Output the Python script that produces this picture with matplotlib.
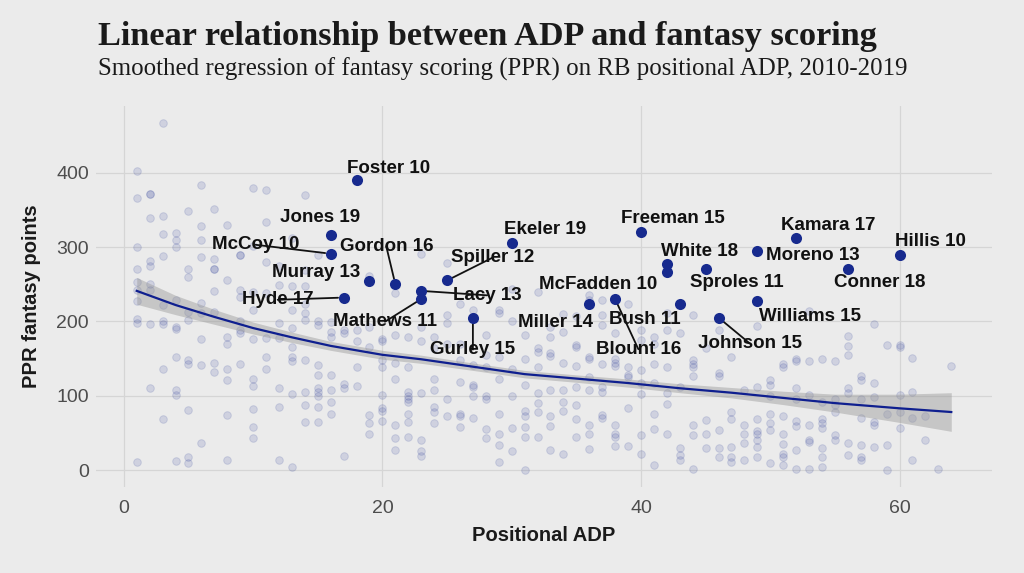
import matplotlib
matplotlib.use("Agg")
import matplotlib.pyplot as plt
import numpy as np

# ---------------- data ----------------
# background points: positional ADP -> list of PPR fantasy points
bg_points = {
    1: [402, 366, 300, 271, 253, 242, 228, 203, 198, 11],
    2: [372, 372, 339, 281, 274, 250, 242, 196, 111],
    3: [467, 342, 317, 288, 222, 200, 196, 136, 68],
    4: [319, 309, 300, 229, 193, 190, 152, 107, 101, 12],
    5: [348, 271, 260, 213, 202, 148, 143, 81, 18, 9],
    6: [383, 328, 309, 286, 225, 211, 176, 141, 37],
    7: [351, 284, 270, 270, 241, 213, 144, 132],
    8: [330, 255, 179, 170, 136, 121, 74, 13],
    9: [289, 289, 242, 233, 200, 188, 184, 143],
    10: [380, 301, 239, 215, 176, 123, 113, 82, 58, 43],
    11: [377, 333, 280, 238, 177, 152, 136],
    12: [274, 249, 198, 177, 111, 85, 14],
    13: [312, 248, 215, 191, 166, 152, 146, 102, 4],
    14: [370, 269, 247, 224, 211, 202, 148, 105, 87, 65],
    15: [289, 200, 195, 141, 128, 110, 105, 100, 85, 65],
    16: [199, 186, 179, 128, 108, 92, 75],
    17: [188, 184, 116, 110, 19],
    18: [189, 173, 139, 113],
    19: [261, 193, 165, 74, 63, 49],
    20: [176, 174, 148, 139, 101, 83, 80, 66],
    21: [238, 182, 144, 123, 61, 43, 27],
    22: [179, 139, 105, 100, 96, 91, 76, 65, 45],
    23: [290, 193, 173, 103, 41, 25, 19],
    24: [179, 164, 123, 108, 85, 78, 63],
    25: [278, 208, 198, 170, 96, 72],
    26: [224, 170, 148, 119, 76, 73, 58],
    27: [215, 141, 115, 112, 100, 70],
    28: [182, 155, 138, 100, 96, 55, 43],
    29: [215, 211, 152, 122, 76, 48, 34, 11],
    30: [244, 200, 136, 100, 56, 26],
    31: [182, 150, 115, 79, 73, 58, 45, 0],
    32: [239, 164, 159, 139, 103, 90, 78, 45],
    33: [193, 179, 157, 153, 107, 72, 59, 27],
    34: [210, 186, 144, 108, 91, 80, 22],
    35: [207, 168, 165, 140, 112, 87, 68, 45],
    36: [235, 229, 152, 149, 125, 108, 61, 49, 28],
    37: [229, 208, 195, 143, 112, 105, 74, 70],
    38: [184, 149, 144, 140, 61, 49, 45, 32],
    39: [224, 138, 128, 125, 84, 32],
    40: [188, 175, 135, 117, 102, 47, 22],
    41: [179, 170, 143, 117, 75, 55, 7],
    42: [211, 189, 139, 103, 89, 49],
    43: [184, 112, 29, 20, 13],
    44: [209, 148, 143, 139, 126, 61, 47, 2],
    45: [164, 67, 49, 29],
    46: [188, 130, 126, 54, 29, 18],
    47: [152, 78, 68, 31, 18, 11],
    48: [108, 61, 49, 36, 13],
    49: [194, 112, 68, 52, 49, 40, 31, 18],
    50: [121, 114, 99, 76, 63, 54, 9],
    51: [143, 139, 72, 49, 35, 22, 18, 7],
    52: [150, 146, 111, 96, 66, 59, 27, 1],
    53: [214, 146, 101, 61, 40, 38, 2],
    54: [150, 91, 68, 63, 56, 29, 18, 4],
    55: [146, 96, 87, 78, 47, 40],
    56: [180, 167, 155, 111, 103, 36, 20],
    57: [126, 121, 95, 70, 34, 18, 13],
    58: [197, 117, 98, 65, 61, 31],
    59: [168, 76, 34, 0],
    60: [168, 165, 101, 78, 56],
    61: [151, 105, 70, 14],
    62: [72, 40],
    63: [2],
    64: [140],
}

# highlighted players
hl_names = ["Foster 10", "Jones 19", "McCoy 10", "Murray 13", "Gordon 16", "Hyde 17",
            "Lacy 13", "Mathews 11", "Spiller 12", "Gurley 15", "Ekeler 19", "Freeman 15",
            "White 18", "McFadden 10", "Miller 14", "Blount 16", "Bush 11", "Sproles 11",
            "Johnson 15", "Moreno 13", "Williams 15", "Kamara 17", "Conner 18", "Hillis 10"]
hl_adp = [18, 16, 16, 19, 21, 17, 23, 23, 25, 27, 30, 40, 42, 42, 36, 38, 43, 45,
          46, 49, 49, 52, 56, 60]
hl_pts = [390, 316, 291, 254, 250, 232, 241, 230, 255, 204, 306, 320, 277, 267, 224,
          230, 223, 271, 205, 294, 227, 312, 271, 289]

# smoothed fit (x, fit, half-width of the confidence band)
smooth_x = [1, 4, 7, 10, 13, 16, 20, 23, 27, 31, 35, 39, 43, 47, 51, 55, 60, 64]
smooth_y = [241, 222, 206, 191, 178.5, 167, 155, 149, 139, 129, 123, 117, 110, 104, 97, 90, 83, 78]
smooth_se = [18, 13, 10, 8, 7, 6, 6, 5.5, 5, 5, 5, 5.5, 6, 7, 9, 12, 19, 26]

x_ticks = [0, 20, 40, 60]
y_ticks = [0, 100, 200, 300, 400]

# label placement (layout only): label centre in data coords, and whether a leader line is drawn
label_pos = {
    "Foster 10": (20.5, 406, False), "Jones 19": (15.2, 340, False),
    "McCoy 10": (10.2, 303, True), "Murray 13": (14.9, 266, False),
    "Gordon 16": (20.3, 301, True), "Hyde 17": (11.9, 229, True),
    "Lacy 13": (28.1, 235, True), "Mathews 11": (20.2, 199.5, True),
    "Spiller 12": (28.5, 285.5, True), "Gurley 15": (27.0, 162, True),
    "Ekeler 19": (32.6, 324, False), "Freeman 15": (42.5, 338, False),
    "White 18": (44.5, 294, False), "McFadden 10": (36.7, 249, False),
    "Miller 14": (33.4, 198, False), "Blount 16": (39.8, 162.5, True),
    "Bush 11": (40.3, 203, False), "Sproles 11": (47.4, 252, False),
    "Johnson 15": (48.4, 170.5, True), "Moreno 13": (53.3, 289, False),
    "Williams 15": (53.1, 207, False), "Kamara 17": (54.5, 329.5, False),
    "Conner 18": (58.5, 252, False), "Hillis 10": (62.4, 307, False),
}

# ---------------- style ----------------
BG = "#ebebeb"
GRID = "#d5d5d5"
NAVY = "#172a8e"
LINE = "#0f1f8f"

fig = plt.figure(figsize=(10.24, 5.73), dpi=100, facecolor=BG)
ax = fig.add_axes([96 / 1024, 1 - 487.4 / 573, 896 / 1024, 381.9 / 573])
ax.set_facecolor(BG)

bx = np.concatenate([[k] * len(v) for k, v in bg_points.items()])
by = np.concatenate([v for v in bg_points.values()])
ax.scatter(bx, by, s=30, facecolor=(0.09, 0.16, 0.56, 0.13),
           edgecolor=(0.09, 0.16, 0.56, 0.14), linewidth=0.7, zorder=2)

sx = np.array(smooth_x, float)
sy = np.array(smooth_y, float)
se = np.array(smooth_se, float)
ax.fill_between(sx, sy - se, sy + se, color="#999999", alpha=0.45, linewidth=0, zorder=3)
ax.plot(sx, sy, color=LINE, lw=1.6, zorder=4)

ax.scatter(hl_adp, hl_pts, s=64, color=NAVY, zorder=6, linewidth=0)

for name, x, y in zip(hl_names, hl_adp, hl_pts):
    lx, ly, line = label_pos[name]
    t = ax.text(lx, ly, name, ha="center", va="center", fontsize=13.5,
                fontweight="bold", family="Liberation Sans", color="#111111", zorder=7)
    if line:
        ax.annotate("", xy=(x, y), xytext=(lx, ly), zorder=5,
                    textcoords="data",
                    arrowprops=dict(arrowstyle="-", color="#111111", lw=1.3,
                                    shrinkA=0, shrinkB=4,
                                    patchA=t))

ax.set_xlim(-2.15, 67.15)
ax.set_ylim(-23.4, 490.4)
ax.set_xticks(x_ticks)
ax.set_yticks(y_ticks)
ax.grid(True, color=GRID, lw=0.9, zorder=0)
ax.set_axisbelow(True)
for s in ax.spines.values():
    s.set_visible(False)
ax.tick_params(length=0, labelsize=14, labelcolor="#4d4d4d")
ax.tick_params(axis="y", pad=5)
ax.tick_params(axis="x", pad=9)
for lab in ax.get_xticklabels() + ax.get_yticklabels():
    lab.set_family("Liberation Sans")

ax.set_xlabel("Positional ADP", fontsize=14.5, fontweight="bold", family="Liberation Sans",
              color="#1a1a1a")
ax.xaxis.set_label_coords(0.5, -0.125)
ax.xaxis.label.set_va("center")
ax.set_ylabel("PPR fantasy points", fontsize=14.5, fontweight="bold", family="Liberation Sans",
              color="#1a1a1a")
ax.yaxis.set_label_coords(-0.0725, 0.5)
ax.yaxis.label.set_va("center")

fig.text(98 / 1024, 1 - 45 / 573, "Linear relationship between ADP and fantasy scoring",
         family="Liberation Serif", fontweight="bold", fontsize=24.7, color="#1a1a1a",
         ha="left", va="baseline")
fig.text(98 / 1024, 1 - 76 / 573,
         "Smoothed regression of fantasy scoring (PPR) on RB positional ADP, 2010-2019",
         family="Liberation Serif", fontsize=17.9, color="#1a1a1a", ha="left", va="baseline")

fig.savefig("out.png", dpi=100, facecolor=BG)
